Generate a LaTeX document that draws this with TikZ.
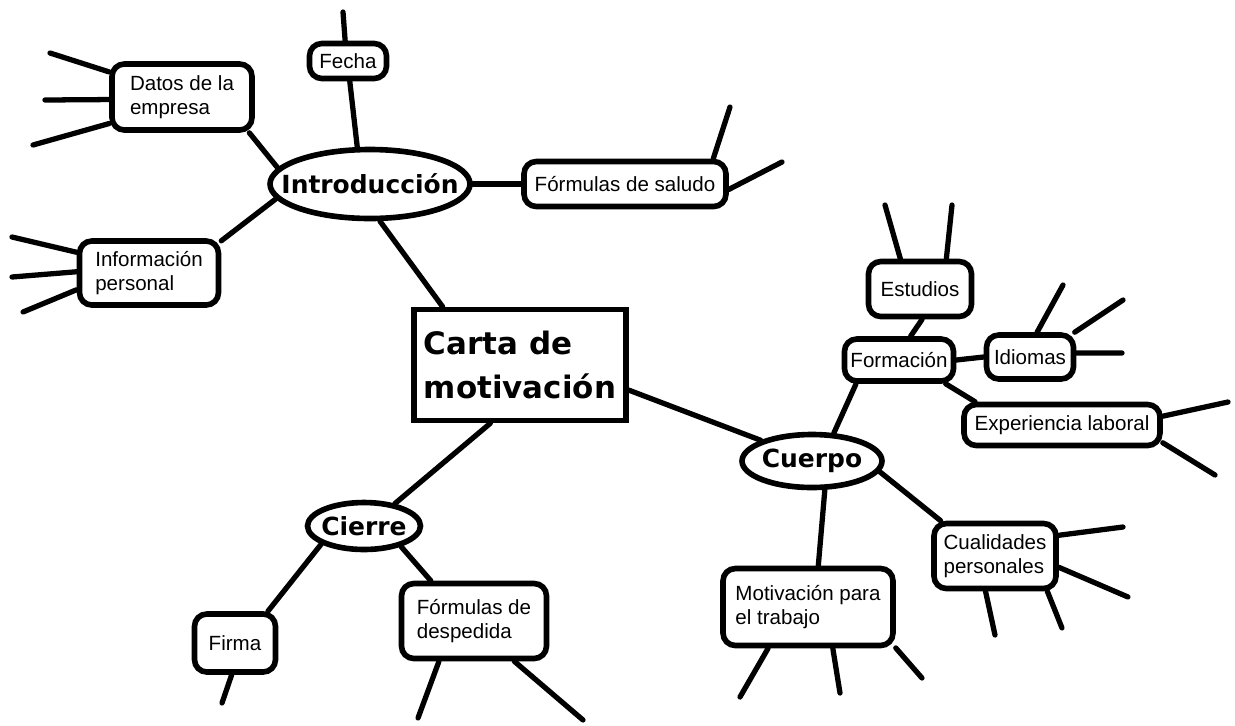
\documentclass[tikz,border=0pt]{standalone}
\usepackage{fontspec}
\setmainfont{Liberation Sans}
\newfontfamily\headfont{DejaVu Sans}
\usetikzlibrary{shapes.geometric}
\newcommand\ovaltext[1]{\makebox[0pt]{#1}}
\tikzset{
  topicbox/.style={draw,rounded corners=7pt,line width=3.2pt,align=left,
                   font=\fontsize{11.7}{13.4}\selectfont,inner sep=2pt},
  mainbox/.style={draw,line width=3.2pt,align=left,inner sep=2pt,
                  font=\headfont\bfseries\fontsize{17.6}{25.5}\selectfont,
                  minimum width=4.24cm,minimum height=2.22cm},
  branchnode/.style={ellipse,draw,line width=3.2pt,inner sep=0pt,
                     font=\headfont\bfseries\fontsize{14.2}{16}\selectfont},
  link/.style={line width=3pt,line cap=round},
}
\begin{document}
\begin{tikzpicture}[x=0.02cm,y=-0.02cm]
  \useasboundingbox[fill=white] (0,0) rectangle (1235,725);
  % centre and the three branches
  \node[mainbox] (carta) at (520,365) {Carta de\\motivaci\'on};
  \node[branchnode,minimum width=4.0cm,minimum height=1.38cm] (intro) at (370,184) {\ovaltext{Introducci\'on}};
  \node[branchnode,minimum width=2.8cm,minimum height=1.06cm] (cuerpo) at (812,461) {\ovaltext{Cuerpo}};
  \node[branchnode,minimum width=2.26cm,minimum height=0.94cm] (cierre) at (364,526) {\ovaltext{Cierre}};
  % introduction
  \node[topicbox,minimum width=2.8cm,minimum height=1.32cm] (datos) at (182,97) {Datos de la\\empresa};
  \node[topicbox,minimum width=1.54cm,minimum height=0.7cm] (fecha) at (348,61) {Fecha};
  \node[topicbox,minimum width=2.78cm,minimum height=1.28cm] (info) at (149,273) {Informaci\'on\\personal};
  \node[topicbox,minimum width=4.04cm,minimum height=0.9cm] (saludo) at (625,184) {F\'ormulas de saludo};
  % body
  \node[topicbox,minimum width=2.06cm,minimum height=1.1cm] (estudios) at (920,289) {Estudios};
  \node[topicbox,minimum width=2.18cm,minimum height=0.84cm] (form) at (899,360) {Formaci\'on};
  \node[topicbox,minimum width=1.74cm,minimum height=0.88cm] (idiomas) at (1030,357) {Idiomas};
  \node[topicbox,minimum width=3.92cm,minimum height=0.82cm] (exp) at (1062,425) {Experiencia laboral};
  \node[topicbox,minimum width=2.44cm,minimum height=1.3cm] (cual) at (995,556) {Cualidades\\personales};
  \node[topicbox,minimum width=3.4cm,minimum height=1.54cm] (motiv) at (808,607) {Motivaci\'on para\\el trabajo};
  % closing
  \node[topicbox,minimum width=1.62cm,minimum height=1.16cm] (firma) at (235,643) {Firma};
  \node[topicbox,minimum width=2.9cm,minimum height=1.5cm] (desp) at (474,621) {F\'ormulas de\\despedida};

  \foreach \a/\b in {intro.170/datos.-28,intro.109/fecha.-85,intro.189/info.24,
                     intro.east/saludo.west,carta.143/intro.-75,carta.-117/cierre.36,
                     carta.-13/cuerpo.158,cuerpo.52/form.-151,form.64/estudios.-86,
                     form.east/idiomas.west,form.-27/exp.165,cuerpo.-66/motiv.76,
                     cuerpo.-9/cual.147,cierre.-157/firma.44,cierre.-29/desp.137}{
    \draw[link] (\a) -- (\b);
  }
  % loose ends
  \foreach \n/\a/\x/\y [count=\k] in {datos/161/50/53,datos/182/45/100,datos/200/33/145,
      fecha/98/343/12,info/164/12/237,info/179/12/277,info/193/23/312,
      saludo/16/730/107,saludo/-3/782/162,estudios/123/885/205,estudios/49/952/205,
      idiomas/74/1063/285,idiomas/29/1123/300,idiomas/5/1122/353,
      exp/5/1228/402,exp/-10/1215/475,cual/18/1123/527,cual/-10/1128/597,
      cual/-105/995/635,cual/-34/1062/628,motiv/-134/740/697,motiv/-59/840/693,
      motiv/-25/922/678,firma/-96/222/703,desp/-131/418/718,desp/-45/583/720}{
    \coordinate (end\k) at (\x,\y);
    \draw[link] (\n.\a) -- (end\k);
  }
\end{tikzpicture}
\end{document}
